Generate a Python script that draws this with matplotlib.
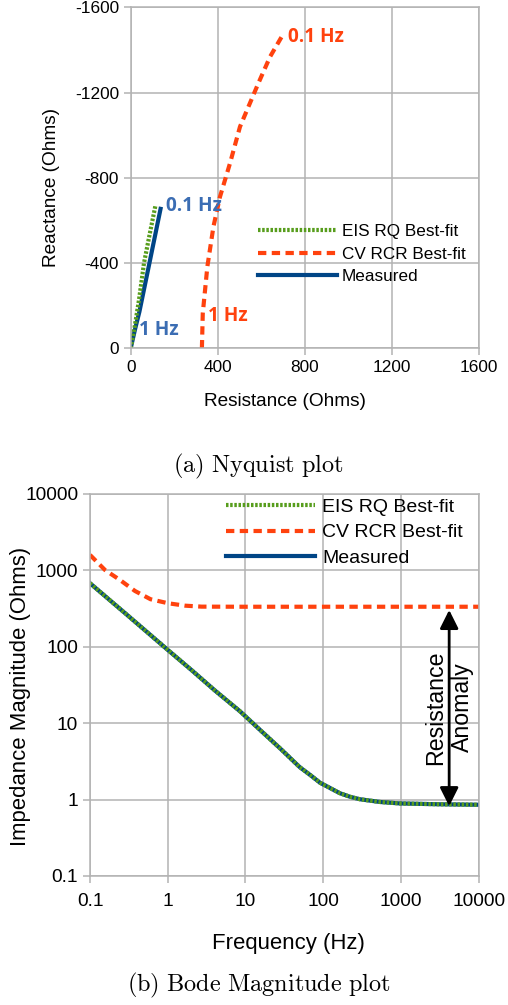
import numpy as np
import matplotlib
matplotlib.use("Agg")
import matplotlib.pyplot as plt
from matplotlib.lines import Line2D
from matplotlib.ticker import FixedLocator, FuncFormatter

plt.rcParams['font.family'] = ['Liberation Sans', 'DejaVu Sans']
plt.rcParams['axes.unicode_minus'] = False
plt.rcParams['mathtext.fontset'] = 'cm'

# colours (LibreOffice palette)
C_BLUE = '#004586'
C_RED = '#ff420e'
C_GREEN = '#579d1c'
C_BLUE_LBL = '#3b6db3'
C_GRID = '#b3b3b3'

# Nyquist data (Ohms), reactance negative
nyq_meas_r = [0, 20, 40, 86, 139]
nyq_meas_x = [0, -90, -172, -400, -664]
nyq_eis_r = [0, 18, 38, 61, 88, 114]
nyq_eis_x = [0, -100, -227, -400, -540, -672]
nyq_cv_r = [327, 331, 352, 380, 410, 456, 502, 586, 640, 698]
nyq_cv_x = [0, -164, -383, -571, -711, -868, -1040, -1243, -1368, -1470]

# Bode data
bode_f = [0.1, 0.3, 1, 2, 4, 8.5, 15.4, 27.8, 50, 70, 91, 125, 164, 220, 296, 535, 966, 3140, 10000]
bode_meas = [678, 261, 91, 50, 27, 14.3, 8.15, 4.69, 2.65, 2.05, 1.66, 1.4, 1.21, 1.09, 1.01, 0.93, 0.89, 0.867, 0.855]
bode_eis = [678, 261, 91, 50, 27, 14.3, 8.15, 4.69, 2.65, 2.05, 1.66, 1.4, 1.21, 1.09, 1.01, 0.93, 0.89, 0.867, 0.855]
bode_cv_f = [0.1, 0.156, 0.243, 0.379, 0.6, 1.01, 1.67, 2.73, 10, 100, 1000, 10000]
bode_cv = [1592, 1010, 748, 537, 419, 371, 345, 335, 334, 334, 334, 334]

legend_labels = ['EIS RQ Best-fit', 'CV RCR Best-fit', 'Measured']

RED_DASH = (0, (2.0, 1.3))
GREEN_DOT = (0, (0.6, 0.4))


def style_axes(ax, tick_size):
    ax.grid(True, color=C_GRID, linewidth=1.1)
    ax.set_axisbelow(True)
    for sp in ax.spines.values():
        sp.set_color(C_GRID)
        sp.set_linewidth(1.1)
    ax.tick_params(colors=C_GRID, labelcolor='black', labelsize=tick_size,
                   length=5, width=1.1, direction='out')
    ax.minorticks_off()


fig = plt.figure(figsize=(5.08, 10.05), dpi=100)

# ---------------- (a) Nyquist ----------------
ax1 = fig.add_axes([0.2573, 0.6534, 0.6857, 0.3393])
ax1.plot(nyq_meas_r, nyq_meas_x, color=C_BLUE, lw=3, solid_capstyle='butt')
ax1.plot(nyq_cv_r, nyq_cv_x, color=C_RED, lw=3, linestyle=RED_DASH, dash_capstyle='butt')
ax1.plot(nyq_eis_r, nyq_eis_x, color=C_GREEN, lw=3, linestyle=GREEN_DOT, dash_capstyle='butt')
ax1.set_xlim(0, 1600)
ax1.set_ylim(0, -1600)
ax1.xaxis.set_major_locator(FixedLocator([0, 400, 800, 1200, 1600]))
ax1.yaxis.set_major_locator(FixedLocator([0, -400, -800, -1200, -1600]))
ax1.yaxis.set_major_formatter(FuncFormatter(lambda v, p: '%d' % v))
style_axes(ax1, 12.4)
ax1.set_xlabel('Resistance (Ohms)', fontsize=13.7)
ax1.set_ylabel('Reactance (Ohms)', fontsize=13.7)
ax1.xaxis.set_label_coords(0.443, -0.1546)
ax1.xaxis.label.set_va('center')
ax1.yaxis.set_label_coords(-0.2288, 0.473)
ax1.yaxis.label.set_va('center')

lbl_kw = dict(fontsize=13.7, fontweight='bold', va='center', ha='left',
              family=['Open Sans', 'DejaVu Sans'])
ax1.text(723, -1461, '0.1 Hz', color=C_RED, **lbl_kw)
ax1.text(355, -152, '1 Hz', color=C_RED, **lbl_kw)
ax1.text(162, -668, '0.1 Hz', color=C_BLUE_LBL, **lbl_kw)
ax1.text(38, -86, '1 Hz', color=C_BLUE_LBL, **lbl_kw)

handles = [Line2D([], [], color=C_GREEN, lw=3, linestyle=GREEN_DOT, dash_capstyle='butt'),
           Line2D([], [], color=C_RED, lw=3, linestyle=RED_DASH, dash_capstyle='butt'),
           Line2D([], [], color=C_BLUE, lw=3)]
ax1.legend(handles, legend_labels, loc='center left', bbox_to_anchor=(0.3655, 0.2765),
           frameon=False, fontsize=12.3, handlelength=4.6, handletextpad=0.3,
           labelspacing=0.42, borderpad=0, borderaxespad=0)

fig.text(258 / 508, 1 - 466.7 / 1005, r'$\mathrm{(a)\ Nyquist\ plot}$', ha='center',
         va='center', fontsize=17.5)

# ---------------- (b) Bode ----------------
ax2 = fig.add_axes([0.1772, 0.1284, 0.7651, 0.3801])
ax2.plot(bode_f, bode_meas, color=C_BLUE, lw=3)
ax2.plot(bode_cv_f, bode_cv, color=C_RED, lw=3, linestyle=RED_DASH, dash_capstyle='butt')
ax2.plot(bode_f, bode_eis, color=C_GREEN, lw=3, linestyle=GREEN_DOT, dash_capstyle='butt')
ax2.set_xscale('log')
ax2.set_yscale('log')
ax2.set_xlim(0.1, 10000)
ax2.set_ylim(0.1, 10000)
decades = [0.1, 1, 10, 100, 1000, 10000]
ax2.xaxis.set_major_locator(FixedLocator(decades))
ax2.yaxis.set_major_locator(FixedLocator(decades))
fmt = FuncFormatter(lambda v, p: '%g' % v)
ax2.xaxis.set_major_formatter(fmt)
ax2.yaxis.set_major_formatter(fmt)
style_axes(ax2, 13.8)
ax2.tick_params(axis='x', pad=7)
ax2.set_xlabel('Frequency (Hz)', fontsize=15.9)
ax2.set_ylabel('Impedance Magnitude (Ohms)', fontsize=15.9)
ax2.xaxis.set_label_coords(0.5107, -0.178)
ax2.xaxis.label.set_va('center')
ax2.yaxis.set_label_coords(-0.180, 0.4696)
ax2.yaxis.label.set_va('center')

ax2.annotate('', xy=(4170, 0.82), xytext=(4170, 303),
             arrowprops=dict(arrowstyle='<|-|>', color='black', lw=2, mutation_scale=28,
                             shrinkA=0, shrinkB=0))
ax2.text(4170, 16, 'Resistance\nAnomaly', rotation=90, ha='center', va='center',
         fontsize=16.7, linespacing=1.2, multialignment='center')

ax2.legend(handles, legend_labels, loc='center left', bbox_to_anchor=(0.35, 0.899),
           frameon=False, fontsize=14, handlelength=4.6, handletextpad=0.35,
           labelspacing=0.42, borderpad=0, borderaxespad=0)

fig.text(259 / 508, 1 - 985 / 1005, r'$\mathrm{(b)\ Bode\ Magnitude\ plot}$', ha='center',
         va='center', fontsize=17.5)

fig.savefig('out.png', dpi=100)
